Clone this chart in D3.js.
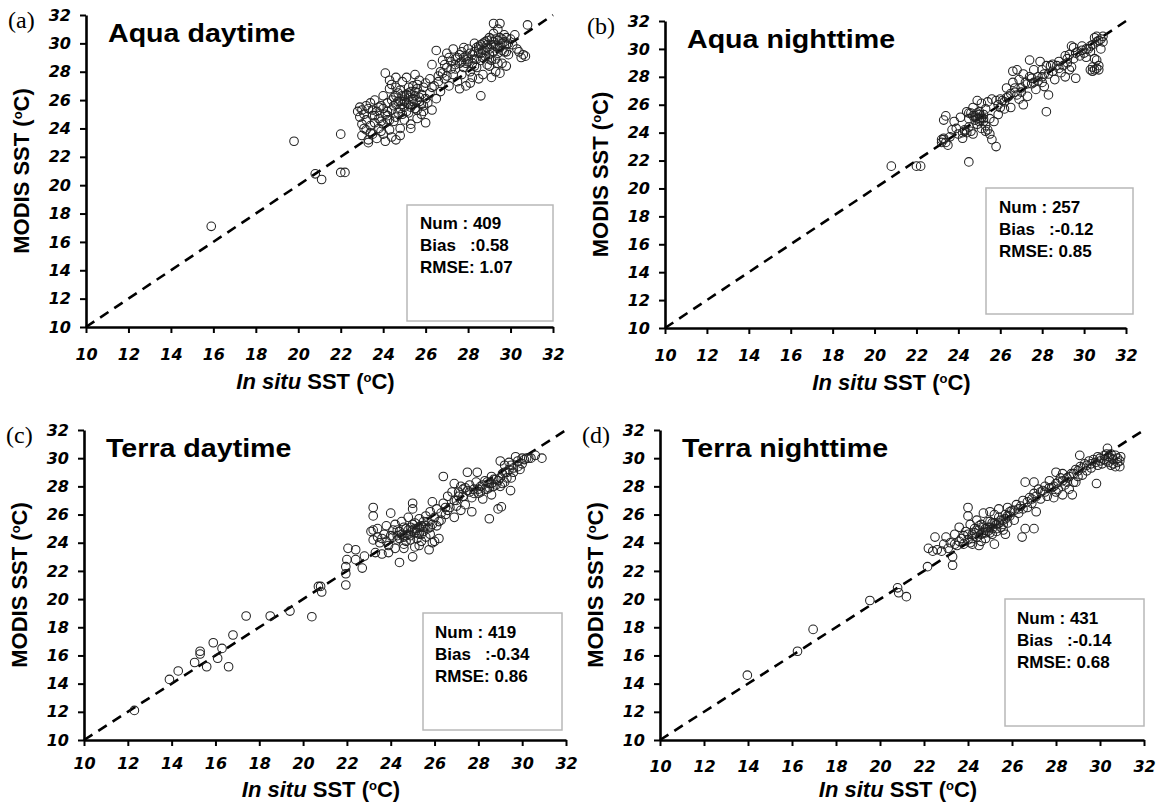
<!DOCTYPE html>
<html>
<head>
<meta charset="utf-8">
<script src="https://cdnjs.cloudflare.com/ajax/libs/d3/7.8.5/d3.min.js"></script>
<style>
    body { margin: 0; background: white; }
    svg { display: block; }
</style>
</head>
<body>
<svg id="chart" width="1163" height="810"></svg>
<script>
// axis ticks, same on every panel
const ticks = [10, 12, 14, 16, 18, 20, 22, 24, 26, 28, 30, 32];

// panel labels and stats
const letters = ["(a)", "(b)", "(c)", "(d)"];
const titles = ["Aqua daytime", "Aqua nighttime", "Terra daytime", "Terra nighttime"];
const nums = ["409", "257", "419", "431"];
const biases = ["0.58", "-0.12", "-0.34", "-0.14"];
const rmses = ["1.07", "0.85", "0.86", "0.68"];

// matchups: [in situ SST, MODIS SST]
const aquaDay = [
    [15.9,17.1],[19.8,23.1],[20.8,20.8],[21.1,20.4],[22.0,20.9],[22.2,20.9],[22.0,23.6],
    [22.8,25.2],[22.9,24.8],[22.9,25.5],[23.0,24.3],[23.0,23.5],[23.1,25.0],[23.2,24.6],[23.2,23.9],
    [23.3,25.4],[23.3,23.2],[23.4,24.2],[23.4,25.8],[23.5,23.6],[23.5,24.9],[23.6,24.4],[23.6,26.0],
    [23.7,23.3],[23.7,25.2],[23.8,24.0],[23.8,24.7],[23.9,23.8],[23.9,25.6],[24.0,24.3],[24.0,26.3],
    [24.1,23.1],[24.1,25.0],[24.2,24.6],[24.2,25.8],[24.3,23.9],[24.3,26.8],[24.4,25.3],[24.4,27.1],
    [24.5,24.5],[24.5,26.2],[24.6,25.7],[24.6,27.6],[24.7,25.1],[24.7,26.5],[24.8,24.0],[24.8,25.9],
    [24.9,26.3],[24.9,27.3],[25.0,25.5],[25.0,26.0],[25.0,24.6],[25.1,25.8],[25.1,27.6],[25.2,26.2],
    [25.2,25.1],[25.3,26.6],[25.3,24.3],[25.4,25.9],[25.4,27.0],[25.5,26.3],[25.5,25.4],[25.6,24.7],
    [25.6,26.8],[25.7,25.9],[25.7,27.4],[25.8,26.4],[25.8,25.0],[25.9,26.9],[25.9,25.6],[26.0,24.4],
    [26.0,27.2],[26.1,25.8],[26.2,26.5],[26.3,25.3],[26.4,27.0],[26.5,26.1],[24.4,23.4],[24.6,23.2],
    [23.3,23.0],[25.3,24.0],[24.1,27.9],[24.3,27.4],[25.5,27.8],[26.6,27.7],[25.9,25.2],[24.8,25.4],
    [25.1,26.4],[24.9,25.0],
    [24.2,25.2],[24.5,25.6],[24.7,25.9],[24.9,25.7],[25.0,26.3],[25.1,25.2],[25.2,25.7],[25.3,25.5],
    [25.4,26.1],[25.6,26.0],[25.8,25.7],[24.6,24.8],[24.3,24.6],[23.9,24.5],[23.6,24.9],[23.4,23.7],
    [23.1,24.0],[23.2,25.6],[23.0,25.3],[24.0,25.4],[24.4,26.0],[25.2,26.9],[25.6,27.1],[26.0,26.1],
    [26.3,26.9],[26.7,26.6],[26.2,27.5],[24.6,26.9],[24.8,23.5],[25.6,25.3],
    [25.0,25.9],[25.2,26.5],[24.8,26.7],[24.6,26.3],[25.5,26.6],[25.7,26.2],[24.2,24.9],[23.8,25.5],
    [23.5,25.3],[24.0,23.6],
    [26.3,28.5],[26.5,29.5],[26.6,27.3],[26.7,28.0],[26.8,28.8],[26.9,27.5],[27.0,28.3],[27.0,29.3],
    [27.1,27.0],[27.2,28.7],[27.3,27.8],[27.3,29.6],[27.4,28.2],[27.5,29.0],[27.5,27.3],[27.6,28.6],
    [27.7,29.4],[27.7,27.8],[27.8,28.3],[27.9,29.1],[27.9,27.0],[28.0,28.7],[28.0,29.6],[28.1,28.0],
    [28.2,29.2],[28.2,27.6],[28.3,28.9],[28.4,29.7],[28.4,28.3],[28.5,29.3],[28.5,27.5],[28.6,29.9],
    [28.6,28.8],[28.7,29.5],[28.7,27.8],[28.8,29.1],[28.8,30.1],[28.9,28.5],[28.9,29.7],[29.0,29.2],
    [29.0,30.4],[29.1,28.8],[29.1,29.9],[29.2,29.4],[29.2,30.7],[29.3,28.9],[29.3,29.8],[29.4,30.2],
    [29.4,29.3],[29.5,29.7],[29.5,31.4],[29.6,28.6],[29.6,30.0],[29.7,29.4],[29.7,30.6],[29.8,29.9],
    [29.9,29.2],[30.0,30.3],[29.2,31.4],[29.4,31.0],[30.8,31.3],[30.4,29.4],[30.6,29.2],[30.5,29.0],
    [30.7,29.1],[30.3,29.6],[28.6,26.3],[29.3,28.0],[29.1,27.6],[29.5,27.9],[29.8,28.4],[28.1,27.2],
    [27.6,26.8],
    [28.3,29.4],[28.5,29.8],[28.7,30.0],[28.9,30.2],[29.0,29.6],[29.1,30.3],[29.2,29.9],[29.3,30.3],
    [29.4,29.7],[29.5,30.4],[29.6,29.5],[29.7,30.1],[29.8,30.4],[28.8,29.5],[28.6,29.3],[28.4,28.9],
    [28.1,29.3],[27.8,29.0],[27.6,29.2],[27.4,28.9],[27.1,29.0],[27.0,27.7],[26.8,27.9],[27.9,28.6],
    [28.3,28.4],[29.8,29.4],[30.1,29.9],[30.2,30.6],[28.7,29.0],[29.0,28.9],
    [28.5,29.6],[28.9,29.9],[29.2,30.1],[29.6,30.3],[29.9,30.0],[28.2,28.6],[28.0,28.9],[27.7,28.7],
    [27.4,28.5],[27.2,28.2],[26.9,28.5],[27.8,29.7],[28.3,30.0],[29.0,28.4],[29.4,28.6]
];
const aquaNight = [
    [20.8,21.6],[22.0,21.6],[22.2,21.6],[24.5,21.9],[28.2,25.5],
    [23.2,23.3],[23.3,23.5],[23.4,23.3],[23.3,23.6],[23.5,23.1],[23.3,24.9],[23.4,25.2],[23.6,23.7],
    [23.7,24.2],[23.8,24.8],[23.9,24.3],[24.0,23.9],[24.1,25.1],[24.2,24.0],[24.3,24.2],[24.4,25.5],
    [24.5,25.0],[24.5,24.4],[24.6,25.4],[24.6,24.1],[24.7,25.8],[24.8,24.9],[24.8,25.2],[24.9,26.3],
    [24.9,24.6],[25.0,25.0],[25.0,25.5],[25.1,24.3],[25.1,26.1],[25.2,25.3],[25.2,24.8],[25.3,25.7],
    [25.3,24.1],[25.4,26.2],[25.4,24.2],[25.5,25.0],[25.6,23.5],[25.7,24.8],[25.8,23.0],[25.8,26.3],
    [25.9,25.3],[26.0,25.8],[25.6,26.4],[24.2,23.6],[24.7,23.9],[25.5,23.9],
    [24.8,25.1],[24.9,25.0],[25.0,24.8],[25.1,25.1],[25.0,25.3],[24.9,25.4],[25.2,25.0],[24.7,25.2],
    [24.4,24.0],[24.3,24.1],[24.5,25.4],[25.3,24.5],[23.2,23.5],[25.9,26.0],[26.0,26.4],
    [26.1,26.3],[26.2,25.7],[26.3,27.2],[26.4,26.6],[26.5,25.8],[26.6,27.6],[26.7,26.9],[26.8,28.5],
    [26.9,26.4],[26.9,27.8],[27.0,27.2],[27.1,26.0],[27.1,28.2],[27.2,27.6],[27.3,26.6],[27.4,29.2],
    [27.4,28.0],[27.5,27.5],[27.6,28.5],[27.7,27.1],[27.8,28.0],[27.9,29.1],[28.0,27.6],[28.0,28.5],
    [28.1,27.3],[28.2,28.8],[28.3,26.7],[28.3,28.2],[28.4,28.8],[26.6,28.4],
    [26.3,26.5],[26.5,26.8],[26.7,27.2],[26.8,26.7],[27.0,26.9],[27.3,27.5],[27.5,27.9],[27.6,27.6],
    [27.8,27.7],[28.1,28.2],[28.0,28.0],[26.2,26.2],
    [28.5,28.9],[28.6,27.8],[28.7,28.8],[28.8,29.1],[28.9,28.3],[29.0,28.8],[29.1,29.5],[29.1,28.0],
    [29.2,29.0],[29.3,29.6],[29.4,30.2],[29.4,28.7],[29.5,29.3],[29.5,30.1],[29.6,27.9],[29.7,29.8],
    [29.8,29.5],[29.9,30.2],[30.0,29.7],[30.1,29.4],[30.2,30.0],[30.3,28.5],[30.4,28.7],[30.5,28.5],
    [30.6,28.6],[30.7,28.8],[30.4,30.3],[30.5,30.8],[30.6,30.9],[30.7,30.6],[30.8,30.0],[30.9,30.9],
    [30.5,29.3],[30.3,29.8],[30.6,29.2],
    [28.5,28.4],[28.8,28.6],[29.2,29.3],[29.6,29.7],[29.9,29.9],[30.1,30.0],[30.3,30.2],[30.6,30.5],
    [30.8,30.7],[30.9,30.5],[30.4,28.4],[30.7,28.5],[29.3,28.5]
];
const terraDay = [
    [12.3,12.1],[13.9,14.3],[14.3,14.9],[15.05,15.5],[15.3,16.1],[15.3,16.3],[15.6,15.2],[15.9,16.9],
    [16.1,15.8],[16.3,16.5],[16.6,15.2],[16.8,17.45],[17.4,18.8],[18.5,18.8],[19.4,19.15],[20.4,18.75],
    [20.8,20.9],[20.85,20.5],[20.7,20.9],[21.95,22.3],[21.95,21.8],[21.95,21.0],[22.05,23.6],[22.0,22.8],
    [22.4,23.5],[22.4,22.8],[22.7,22.2],[22.8,23.05],[23.2,26.5],[23.2,25.9],
    [23.1,24.8],[23.2,24.2],[23.3,23.3],[23.4,25.0],[23.5,24.0],[23.6,23.2],[23.7,24.6],[23.8,25.2],
    [23.9,23.8],[24.0,26.1],[24.0,24.5],[24.1,24.9],[24.2,23.6],[24.2,25.3],[24.3,24.2],[24.4,22.6],
    [24.4,24.8],[24.5,25.5],[24.6,24.4],[24.6,23.9],[24.7,25.0],[24.8,24.6],[24.8,25.8],[24.9,24.2],
    [24.9,25.1],[25.0,26.8],[25.0,26.4],[25.0,23.0],[25.1,24.7],[25.1,25.4],[25.2,24.3],[25.2,25.0],
    [25.3,24.6],[25.3,25.7],[25.4,24.1],[25.4,25.2],[25.5,24.8],[25.5,25.5],[25.6,24.4],[25.6,25.9],
    [25.7,25.0],[25.75,23.5],[25.8,24.6],[25.8,26.2],[25.9,26.9],[25.9,25.3],[26.0,24.1],[26.0,25.8],
    [26.1,26.4],[26.2,25.5],[26.2,24.3],[26.3,26.1],[24.3,24.5],[24.7,24.1],[25.1,23.7],[23.9,23.3],
    [24.3,24.9],[24.5,24.6],[24.6,25.1],[24.7,24.5],[24.8,24.9],[24.9,24.5],[25.0,24.9],[25.0,25.3],
    [25.1,25.0],[25.2,24.7],[25.3,25.1],[25.4,24.6],[25.5,25.1],[25.6,25.2],[25.7,25.5],[25.8,25.1],
    [24.4,24.3],[24.1,24.4],[23.8,24.1],[23.6,24.3],[23.4,24.4],[23.2,24.9],[24.6,23.6],[25.3,23.8],
    [25.9,24.0],[26.1,25.2],[26.3,25.6],[26.5,26.5],[26.6,26.3],[27.0,26.6],
    [26.4,28.7],[26.4,26.8],[26.5,26.0],[26.6,27.3],[26.7,26.5],[26.8,27.6],[26.9,28.2],[26.9,25.8],
    [27.0,27.0],[27.1,27.6],[27.2,26.3],[27.2,28.0],[27.3,27.3],[27.4,26.7],[27.5,29.0],[27.5,27.7],
    [27.6,28.1],[27.7,27.2],[27.7,26.2],[27.8,27.8],[27.9,28.3],[27.95,29.0],[28.0,27.5],[28.1,28.0],
    [28.2,27.1],[28.3,28.4],[28.4,27.8],[28.5,25.7],[28.5,28.2],[28.6,28.7],[28.6,27.4],[28.7,28.0],
    [28.8,28.5],[28.9,26.4],[29.0,28.0],[29.05,26.55],[29.1,28.9],[29.2,29.5],[29.2,28.3],[29.3,29.0],
    [29.4,29.7],[29.47,27.7],[29.5,28.6],[29.6,29.3],[29.7,30.1],[29.8,29.8],[29.9,29.2],[30.0,29.6],
    [30.1,29.9],[30.3,30.0],[30.4,30.0],[30.6,30.2],[30.9,30.0],[29.0,29.8],
    [27.6,27.6],[27.8,27.5],[28.0,27.8],[28.1,27.6],[28.2,28.1],[28.3,27.8],[28.4,28.3],[28.5,27.9],
    [28.6,28.2],[28.7,28.5],[28.8,28.1],[28.9,28.4],[29.0,28.6],[29.1,28.2],[29.2,29.0],[29.3,28.6],
    [29.4,29.2],[29.5,29.5],[29.6,29.0],[29.8,29.4],[30.0,30.0],[30.2,30.0],[27.4,27.9],[27.3,27.8],
    [27.1,27.3],[26.9,27.0]
];
const terraNight = [
    [13.97,14.6],[16.25,16.3],[16.96,17.85],[19.54,19.9],[20.8,20.8],[20.85,20.45],[21.2,20.17],
    [22.16,22.3],[23.3,22.4],
    [22.2,23.6],[22.4,23.4],[22.5,24.4],[22.6,23.5],[22.8,23.4],[22.9,23.9],[23.0,24.4],[23.1,23.6],
    [23.2,24.0],[23.3,23.0],[23.4,24.6],[23.5,23.8],[23.6,25.1],[23.7,24.3],[23.8,23.9],[23.9,24.8],
    [24.0,26.5],[24.0,25.9],[24.0,24.2],[24.1,25.3],[24.2,24.6],[24.2,23.9],[24.3,25.0],[24.4,24.4],
    [24.4,25.6],[24.5,24.9],[24.6,24.1],[24.6,25.3],[24.7,24.7],[24.7,26.1],[24.8,25.0],[24.8,24.3],
    [24.9,25.5],[24.9,24.8],[25.0,26.2],[25.0,25.1],[25.1,24.6],[25.1,25.4],[25.2,26.0],[25.2,23.9],
    [25.3,25.3],[25.3,24.8],[25.4,25.8],[25.4,26.4],[25.5,25.1],[25.6,25.6],[25.6,24.9],[25.7,26.0],
    [25.8,25.4],[25.8,26.5],[25.9,25.9],[26.0,26.3],[26.1,25.6],[26.2,26.7],[26.3,26.1],[26.4,26.6],
    [26.46,24.4],[26.6,25.0],[27.0,25.0],[24.5,23.8],[25.7,24.6],
    [24.3,24.7],[24.5,25.2],[24.6,24.6],[24.7,25.1],[24.8,24.7],[24.9,25.1],[25.0,24.7],[25.0,25.5],
    [25.1,25.0],[25.2,25.4],[25.3,25.0],[25.4,25.4],[25.5,25.6],[25.6,25.3],[25.7,25.7],[25.8,25.9],
    [24.2,24.3],[24.0,24.6],[23.8,24.5],[23.6,24.1],[23.4,23.9],[24.4,24.9],[24.1,24.0],[25.9,26.2],
    [26.5,27.0],[26.6,28.3],[26.7,26.5],[26.8,27.2],[26.9,26.8],[27.0,28.3],[27.0,27.5],[27.1,26.2],
    [27.2,27.8],[27.3,27.1],[27.4,27.7],[27.5,28.0],[27.6,27.3],[27.7,28.4],[27.8,27.9],[27.9,27.2],
    [28.0,29.0],[28.0,28.2],[28.1,27.8],[28.2,28.6],[28.3,27.4],[28.3,28.9],[28.4,28.1],[28.5,28.6],
    [28.6,27.8],[28.7,28.9],[28.74,27.4],[28.8,28.3],[28.9,29.2],[29.0,28.7],[29.08,30.2],[29.1,29.4],
    [29.2,28.8],[29.3,29.6],[29.4,29.1],[29.5,29.8],[29.6,29.3],[29.7,29.9],[29.84,28.2],[29.9,29.5],
    [30.0,30.0],[30.1,29.6],[30.2,30.2],[30.34,30.7],[30.3,29.8],[30.4,30.1],[30.5,29.5],[30.5,30.3],
    [30.6,29.9],[30.7,30.2],[30.7,29.4],[30.8,29.7],[30.94,30.1],[30.9,29.4],[28.0,27.6],
    [26.1,26.3],[26.3,26.4],[26.5,26.4],[26.7,26.9],[26.9,27.1],[27.1,27.3],[27.3,27.6],[27.5,27.6],
    [27.7,27.9],[27.9,28.0],[28.1,28.3],[28.3,28.4],[28.5,28.3],[28.6,28.7],[28.8,28.9],[29.0,29.1],
    [29.2,29.3],[29.4,29.5],[29.6,29.6],[29.8,29.7],[30.0,29.8],[30.2,29.9],[30.4,29.7],[30.6,29.6],
    [30.8,30.0],[30.9,29.8],[30.5,30.0],[30.3,30.3],[29.9,30.1],[28.9,28.3]
];
const series = [aquaDay, aquaNight, terraDay, terraNight];

// where each panel sits on the page (plot area in pixels)
const layout = [
    { x0: 86, x1: 553, y0: 327, y1: 15, pad: 16, xt: 62, box: [407, 205, 146, 116], stat: [420, 229] },
    { x0: 665, x1: 1126, y0: 328, y1: 21, pad: 16, xt: 62, box: [986, 188, 147, 126], stat: [999, 213] },
    { x0: 84, x1: 566, y0: 740, y1: 430, pad: 12, xt: 57, box: [423, 613, 139, 117], stat: [435, 638] },
    { x0: 660, x1: 1144, y0: 740, y1: 430, pad: 15, xt: 57, box: [1005, 599, 139, 127], stat: [1017, 624] }
];

const svg = d3.select("#chart");
const bold = "'Liberation Sans', Arial, sans-serif";

// draws one scatter panel
function drawPanel(i) {
    const L = layout[i];
    const x = d3.scaleLinear().domain([10, 32]).range([L.x0, L.x1]);
    const y = d3.scaleLinear().domain([10, 32]).range([L.y0, L.y1]);
    const g = svg.append("g");

    // stats box
    g.append("rect")
        .attr("x", L.box[0]).attr("y", L.box[1])
        .attr("width", L.box[2]).attr("height", L.box[3])
        .attr("fill", "none").attr("stroke", "#b8b8b8").attr("stroke-width", 1.5);

    const statLines = ["Num : " + nums[i], "Bias   :" + biases[i], "RMSE: " + rmses[i]];
    g.selectAll(".stat").data(statLines).enter().append("text")
        .attr("x", L.stat[0])
        .attr("y", (d, k) => L.stat[1] + k * 22)
        .attr("xml:space", "preserve")
        .style("font-family", bold)
        .style("font-weight", "bold")
        .style("font-size", "17px")
        .text(d => d);

    // 1:1 line
    g.append("line")
        .attr("x1", x(10)).attr("y1", y(10))
        .attr("x2", x(32)).attr("y2", y(32))
        .attr("stroke", "black").attr("stroke-width", 2.6)
        .attr("stroke-dasharray", "10,7");

    // matchup points
    g.selectAll("circle").data(series[i]).enter().append("circle")
        .attr("cx", d => x(d[0]))
        .attr("cy", d => y(d[1]))
        .attr("r", 4.3)
        .attr("fill", "none")
        .attr("stroke", "#222")
        .attr("stroke-width", 1.05);

    // axes
    const ax = g.append("g").attr("transform", "translate(0," + L.y0 + ")")
        .call(d3.axisBottom(x).tickValues(ticks).tickSizeInner(6).tickSizeOuter(0).tickPadding(L.pad));
    const ay = g.append("g").attr("transform", "translate(" + L.x0 + ",0)")
        .call(d3.axisLeft(y).tickValues(ticks).tickSizeInner(6).tickSizeOuter(0).tickPadding(9));
    [ax, ay].forEach(a => {
        a.select(".domain").attr("stroke", "black").attr("stroke-width", 2.6);
        a.selectAll(".tick line").attr("stroke", "black").attr("stroke-width", 2);
        a.selectAll(".tick text")
            .style("font-family", "'DejaVu Sans', Verdana, sans-serif")
            .style("font-weight", "bold")
            .style("font-style", "italic")
            .style("font-size", "16px");
    });

    // panel letter and title
    g.append("text")
        .attr("x", L.x0 - 78).attr("y", L.y1 + 13)
        .style("font-family", "'Liberation Serif', 'Times New Roman', serif")
        .style("font-size", "24px")
        .text(letters[i]);
    g.append("text")
        .attr("transform", "translate(" + (L.x0 + 22) + "," + (L.y1 + 27) + ") scale(1.1,1)")
        .style("font-family", bold).style("font-weight", "bold").style("font-size", "26px")
        .text(titles[i]);

    // axis titles
    const xt = g.append("text")
        .attr("x", (L.x0 + L.x1) / 2 - 4).attr("y", L.y0 + L.xt)
        .attr("text-anchor", "middle")
        .style("font-family", bold).style("font-weight", "bold").style("font-size", "22px");
    xt.append("tspan").style("font-style", "italic").text("In situ");
    xt.append("tspan").text(" SST (");
    xt.append("tspan").attr("dy", -7).style("font-size", "13px").text("o");
    xt.append("tspan").attr("dy", 7).text("C)");

    const yt = g.append("text")
        .attr("transform", "translate(" + (L.x0 - 57) + "," + (L.y0 + L.y1) / 2 + ") rotate(-90)")
        .attr("text-anchor", "middle")
        .style("font-family", bold).style("font-weight", "bold").style("font-size", "22px");
    yt.append("tspan").text("MODIS SST (");
    yt.append("tspan").attr("dy", -7).style("font-size", "13px").text("o");
    yt.append("tspan").attr("dy", 7).text("C)");
}

for (let i = 0; i < 4; i++) drawPanel(i);
</script>
</body>
</html>
